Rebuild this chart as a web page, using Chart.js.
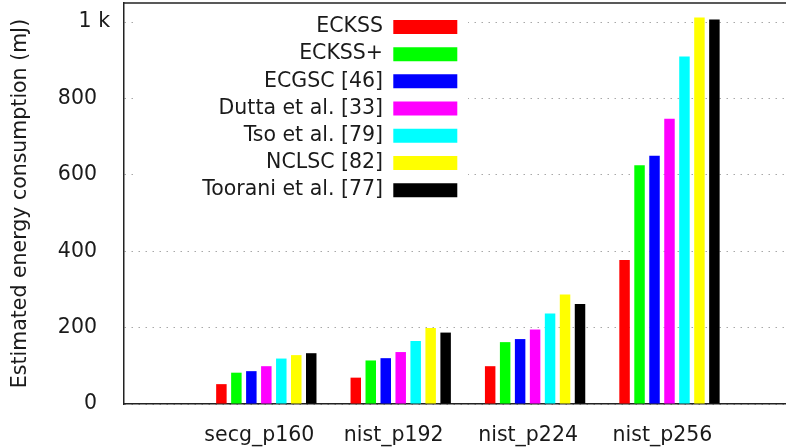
<!DOCTYPE html>
<html>
<head>
<meta charset="utf-8">
<script src="https://cdn.jsdelivr.net/npm/chart.js@4/dist/chart.umd.min.js"></script>
<style>
  html, body { margin: 0; padding: 0; background: #ffffff; overflow: hidden; }
  #wrap { width: 786px; height: 448px; }
</style>
</head>
<body>
<div id="wrap"><canvas id="chart" width="786" height="448"></canvas></div>
<script>
// Curves on the x axis
const curves = ['secg_p160', 'nist_p192', 'nist_p224', 'nist_p256'];

// Estimated energy consumption (mJ) per scheme, one value per curve
const eckss     = [52, 69, 99, 377];
const eckssPlus = [82, 114, 162, 625];
const ecgsc     = [86, 120, 170, 650];
const dutta     = [99, 136, 195, 747];
const tso       = [119, 165, 237, 910];
const nclsc     = [128, 199, 287, 1012];
const toorani   = [133, 187, 262, 1007];

const schemeNames = ['ECKSS', 'ECKSS+', 'ECGSC [46]', 'Dutta et al. [33]',
                     'Tso et al. [79]', 'NCLSC [82]', 'Toorani et al. [77]'];
const schemeValues = [eckss, eckssPlus, ecgsc, dutta, tso, nclsc, toorani];

// y axis ticks and their labels
const yTickValues = [0, 200, 400, 600, 800, 1000];
const yTickLabels = ['0', '200', '400', '600', '800', '1 k'];

// styling
const schemeColors = ['#ff0000', '#00ff00', '#0000ff', '#ff00ff', '#00ffff', '#ffff00', '#000000'];
const TEXT = '#1a1a1a';
const AXIS = '#222222';
const FONT_SIZE = 20.5;

Chart.defaults.font.family = '"DejaVu Sans", sans-serif';
Chart.defaults.font.size = FONT_SIZE;
Chart.defaults.color = TEXT;

// Key placed inside the plot, on an opaque white panel, plus the top frame edge
const keyPanel = {
  id: 'keyPanel',
  afterLayout(chart) {
    const lg = chart.legend;
    lg.left = 130; lg.width = 334; lg.right = 464;
    lg.top = 10; lg.height = 300; lg.bottom = 310;
  },
  afterDraw(chart) {
    const {ctx, chartArea} = chart;
    ctx.save();
    ctx.fillStyle = '#ffffff';
    ctx.fillRect(134, 5, 334, 200);
    ctx.restore();
    chart.legend.draw(chartArea);

    ctx.save();
    ctx.strokeStyle = AXIS;
    ctx.lineWidth = 1.5;
    ctx.beginPath();
    ctx.moveTo(chartArea.left, chartArea.top);
    ctx.lineTo(chartArea.right, chartArea.top);
    ctx.stroke();
    ctx.restore();
  }
};

new Chart(document.getElementById('chart'), {
  type: 'bar',
  data: {
    datasets: schemeNames.map((name, s) => ({
      label: name,
      data: schemeValues[s].map((v, i) => ({ x: i, y: v })),
      backgroundColor: schemeColors[s],
      borderWidth: 0
    }))
  },
  options: {
    responsive: false,
    animation: false,
    devicePixelRatio: 1,
    layout: { padding: { top: 3, left: 0, right: 0, bottom: 0 } },
    datasets: { bar: { categoryPercentage: 0.78, barPercentage: 0.7 } },
    scales: {
      x: {
        type: 'linear',
        offset: false,
        min: -1.059,
        max: 3.867,
        grid: { display: false, drawTicks: false, offset: false },
        border: { display: true, color: AXIS, width: 1.5 },
        ticks: {
          padding: 19,
          labelOffset: -7,
          autoSkip: false,
          maxRotation: 0,
          color: TEXT,
          callback: (v) => curves[v] !== undefined ? curves[v] : ''
        },
        afterBuildTicks(scale) {
          scale.ticks = curves.map((_, i) => ({ value: i }));
        },
        afterFit(scale) {
          scale.height = 44;
          scale.paddingLeft = 0;
          scale.paddingRight = 0;
        }
      },
      y: {
        min: 0,
        max: 1050,
        grid: { color: '#a8a8a8', lineWidth: 1, drawTicks: false },
        border: { display: true, color: AXIS, width: 1.5, dash: [1.5, 5.5] },
        ticks: {
          padding: 14,
          color: TEXT,
          callback: (v) => {
            const k = yTickValues.indexOf(v);
            const t = k >= 0 ? yTickLabels[k] : '';
            return /\d$/.test(t) ? t + '  ' : t;
          }
        },
        afterBuildTicks(scale) {
          scale.ticks = yTickValues.map(v => ({ value: v }));
        },
        afterFit(scale) {
          scale.width = 124;
          scale.paddingTop = 0;
          scale.paddingBottom = 0;
        },
        title: {
          display: true,
          text: 'Estimated energy consumption (mJ)',
          color: TEXT,
          font: { size: FONT_SIZE },
          padding: { top: 8, bottom: 0 }
        }
      }
    },
    plugins: {
      legend: {
        position: 'chartArea',
        align: 'start',
        rtl: true,
        textDirection: 'ltr',
        labels: {
          boxWidth: 64,
          boxHeight: 14,
          padding: 6.7,
          color: TEXT,
          font: { size: FONT_SIZE }
        }
      },
      tooltip: { enabled: false }
    }
  },
  plugins: [keyPanel]
});
</script>
</body>
</html>
